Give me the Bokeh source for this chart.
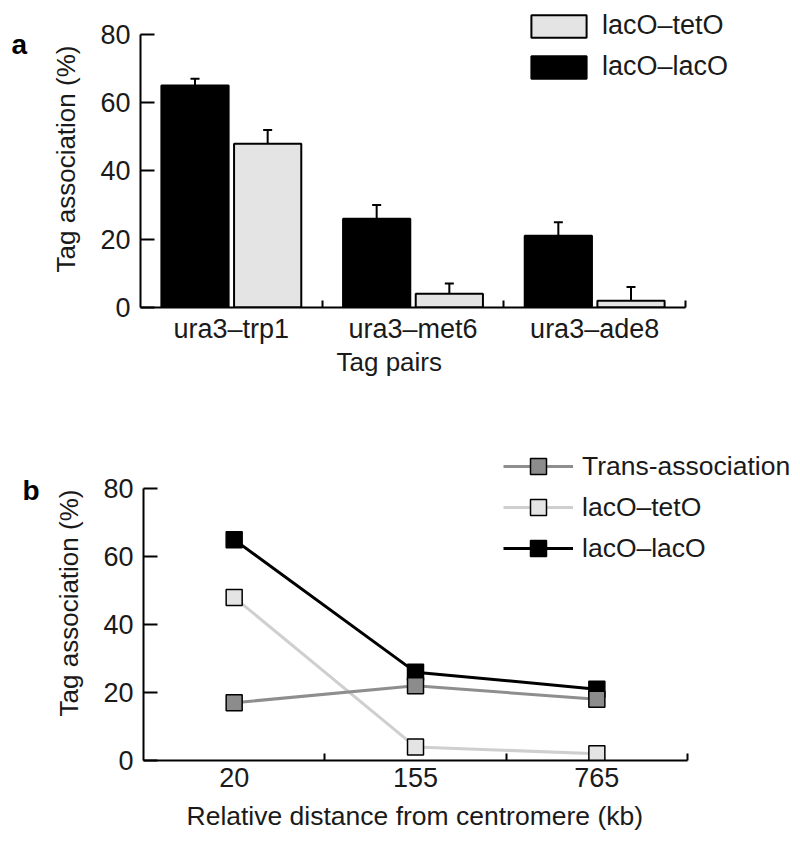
import numpy as np
from bokeh.plotting import figure
from bokeh.layouts import column, row
from bokeh.models import (ColumnDataSource, Range1d, FixedTicker, Whisker, TeeHead,
                          Legend, LegendItem, Label, Title)
from bokeh.embed import file_html
from bokeh.resources import INLINE

# ---------------- data ----------------
pairs = ["ura3–trp1", "ura3–met6", "ura3–ade8"]
laclac = [65, 26, 21]
laclac_err = [2, 4, 4]
lactet = [48, 4, 2]
lactet_err = [4, 3, 4]

distances = ["20", "155", "765"]
trans_b = [17, 22, 18]
lactet_b = [48, 4, 2]
laclac_b = [65, 26, 21]

y_ticks = [0, 20, 40, 60, 80]

FONT = "Liberation Sans"
TXT = "#1a1a1a"
LIGHT_FILL = "#e4e4e4"
LIGHT_LINE = "#cfcfcf"
MID_FILL = "#8c8c8c"
MID_LINE = "#8e8e8e"


def style_axes(p, cats):
    n = len(cats)
    centers = [i + 0.5 for i in range(n)]
    xa = p.xaxis[0]
    xa.ticker = FixedTicker(ticks=centers, minor_ticks=[i + 1 for i in range(n)])
    xa.major_label_overrides = {c: lab for c, lab in zip(centers, cats)}
    xa.bounds = (0, n)
    xa.major_tick_in = 0
    xa.major_tick_out = 0
    xa.minor_tick_in = 7
    xa.minor_tick_out = 0
    xa.minor_tick_line_width = 2
    xa.minor_tick_line_color = "black"
    ya = p.yaxis[0]
    ya.ticker = FixedTicker(ticks=y_ticks)
    ya.bounds = (0, 80)
    ya.major_tick_in = 14
    ya.major_tick_out = 0
    ya.minor_tick_in = 0
    ya.minor_tick_out = 0
    ya.major_tick_line_width = 2
    for ax in (xa, ya):
        ax.axis_line_width = 2
        ax.axis_line_color = "black"
        ax.major_label_text_font = FONT
        ax.major_label_text_font_size = "27px"
        ax.major_label_text_color = TXT
    ya.axis_label_text_font = FONT
    ya.axis_label_text_font_style = "normal"
    ya.axis_label_text_color = TXT
    ya.axis_label_text_font_size = "26px"
    ya.major_label_standoff = 10
    ya.axis_label_standoff = 16
    xa.major_label_standoff = 6
    p.grid.visible = False
    p.outline_line_color = None
    p.background_fill_color = "white"
    p.border_fill_color = "white"


def x_title(p, text, offset, standoff, size):
    p.add_layout(Title(text=text, align="left", offset=offset, standoff=standoff,
                       vertical_align="top", text_font=FONT, text_font_size=size,
                       text_font_style="normal", text_color=TXT), "below")


def letter_fig(h, letter, lx, ly):
    f = figure(width=48, height=h, output_backend="svg", toolbar_location=None,
               x_range=Range1d(0, 48), y_range=Range1d(h, 0),
               x_axis_type=None, y_axis_type=None, min_border=0)
    f.grid.visible = False
    f.outline_line_color = None
    f.add_layout(Label(x=lx, y=ly, text=letter, text_font=FONT, text_font_size="28px",
                       text_font_style="bold", text_color="black",
                       text_baseline="alphabetic", text_align="left"))
    return f


# ---------------- panel a ----------------
HA = 425
pa = figure(width=752, height=HA, output_backend="svg", toolbar_location=None,
            x_range=Range1d(0, 3.633), y_range=Range1d(0, 87.0),
            min_border_left=92, min_border_right=0, min_border_top=10,
            min_border_bottom=HA - 307)
style_axes(pa, pairs)
pa.yaxis.axis_label = "Tag association (%)"
x_title(pa, "Tag pairs", 196, 0, "26px")

idx = np.arange(len(pairs)) + 0.5
src_a = ColumnDataSource(dict(
    x_lac=idx - 0.2, x_tet=idx + 0.2,
    laclac=laclac, lactet=lactet,
    laclac_hi=np.array(laclac) + np.array(laclac_err),
    lactet_hi=np.array(lactet) + np.array(lactet_err),
))
r_lac = pa.vbar(x="x_lac", top="laclac", width=0.37, bottom=0, source=src_a,
                fill_color="black", line_color="black", line_width=2)
r_tet = pa.vbar(x="x_tet", top="lactet", width=0.37, bottom=0, source=src_a,
                fill_color=LIGHT_FILL, line_color="black", line_width=2)
for base, lo, hi in (("x_lac", "laclac", "laclac_hi"), ("x_tet", "lactet", "lactet_hi")):
    w = Whisker(source=src_a, base=base, lower=lo, upper=hi, dimension="height",
                line_width=2, line_color="black",
                upper_head=TeeHead(size=9, line_width=2, line_color="black"),
                lower_head=None, level="overlay")
    pa.add_layout(w)

leg_a = Legend(items=[LegendItem(label="lacO–tetO", renderers=[r_tet]),
                      LegendItem(label="lacO–lacO", renderers=[r_lac])],
               location=(384, 225), glyph_width=69, glyph_height=28, spacing=10,
               padding=0, margin=0, label_standoff=9,
               label_text_font=FONT, label_text_font_size="27px", label_text_color=TXT,
               border_line_color=None, background_fill_alpha=0)
pa.add_layout(leg_a)

# ---------------- panel b ----------------
HB = 418
pb = figure(width=752, height=HB, output_backend="svg", toolbar_location=None,
            x_range=Range1d(0, 3.623), y_range=Range1d(0, 92.7),
            min_border_left=95, min_border_right=0, min_border_top=20,
            min_border_bottom=HB - (761 - HA))
style_axes(pb, distances)
pb.xaxis.major_label_standoff = 7
pb.yaxis.axis_label = "Tag association (%)"
x_title(pb, "Relative distance from centromere (kb)", 43, 22, "26.5px")

xb = np.arange(len(distances)) + 0.5
src_b = ColumnDataSource(dict(x=xb, trans=trans_b, tet=lactet_b, lac=laclac_b))

l_lac = pb.line("x", "lac", source=src_b, line_color="black", line_width=3)
m_lac = pb.scatter("x", "lac", source=src_b, marker="square", size=16,
                   fill_color="black", line_color="black", line_width=1.5)
l_tet = pb.line("x", "tet", source=src_b, line_color=LIGHT_LINE, line_width=3)
m_tet = pb.scatter("x", "tet", source=src_b, marker="square", size=16,
                   fill_color=LIGHT_FILL, line_color="black", line_width=1.5)
l_tr = pb.line("x", "trans", source=src_b, line_color=MID_LINE, line_width=3)
m_tr = pb.scatter("x", "trans", source=src_b, marker="square", size=16,
                  fill_color=MID_FILL, line_color="black", line_width=1.5)

leg_b = Legend(items=[LegendItem(label="Trans-association", renderers=[l_tr, m_tr]),
                      LegendItem(label="lacO–tetO", renderers=[l_tet, m_tet]),
                      LegendItem(label="lacO–lacO", renderers=[l_lac, m_lac])],
               location=(360, 192), glyph_width=70, glyph_height=40, spacing=1,
               padding=0, margin=0, label_standoff=9,
               label_text_font=FONT, label_text_font_size="26.5px", label_text_color=TXT,
               border_line_color=None, background_fill_alpha=0)
pb.add_layout(leg_b)

la = letter_fig(HA, "a", 11, 48)
lb = letter_fig(HB, "b", 22, 485 - HA)

layout = column(row(la, pa), row(lb, pb))
open("out.html", "w").write(file_html(layout, INLINE))
